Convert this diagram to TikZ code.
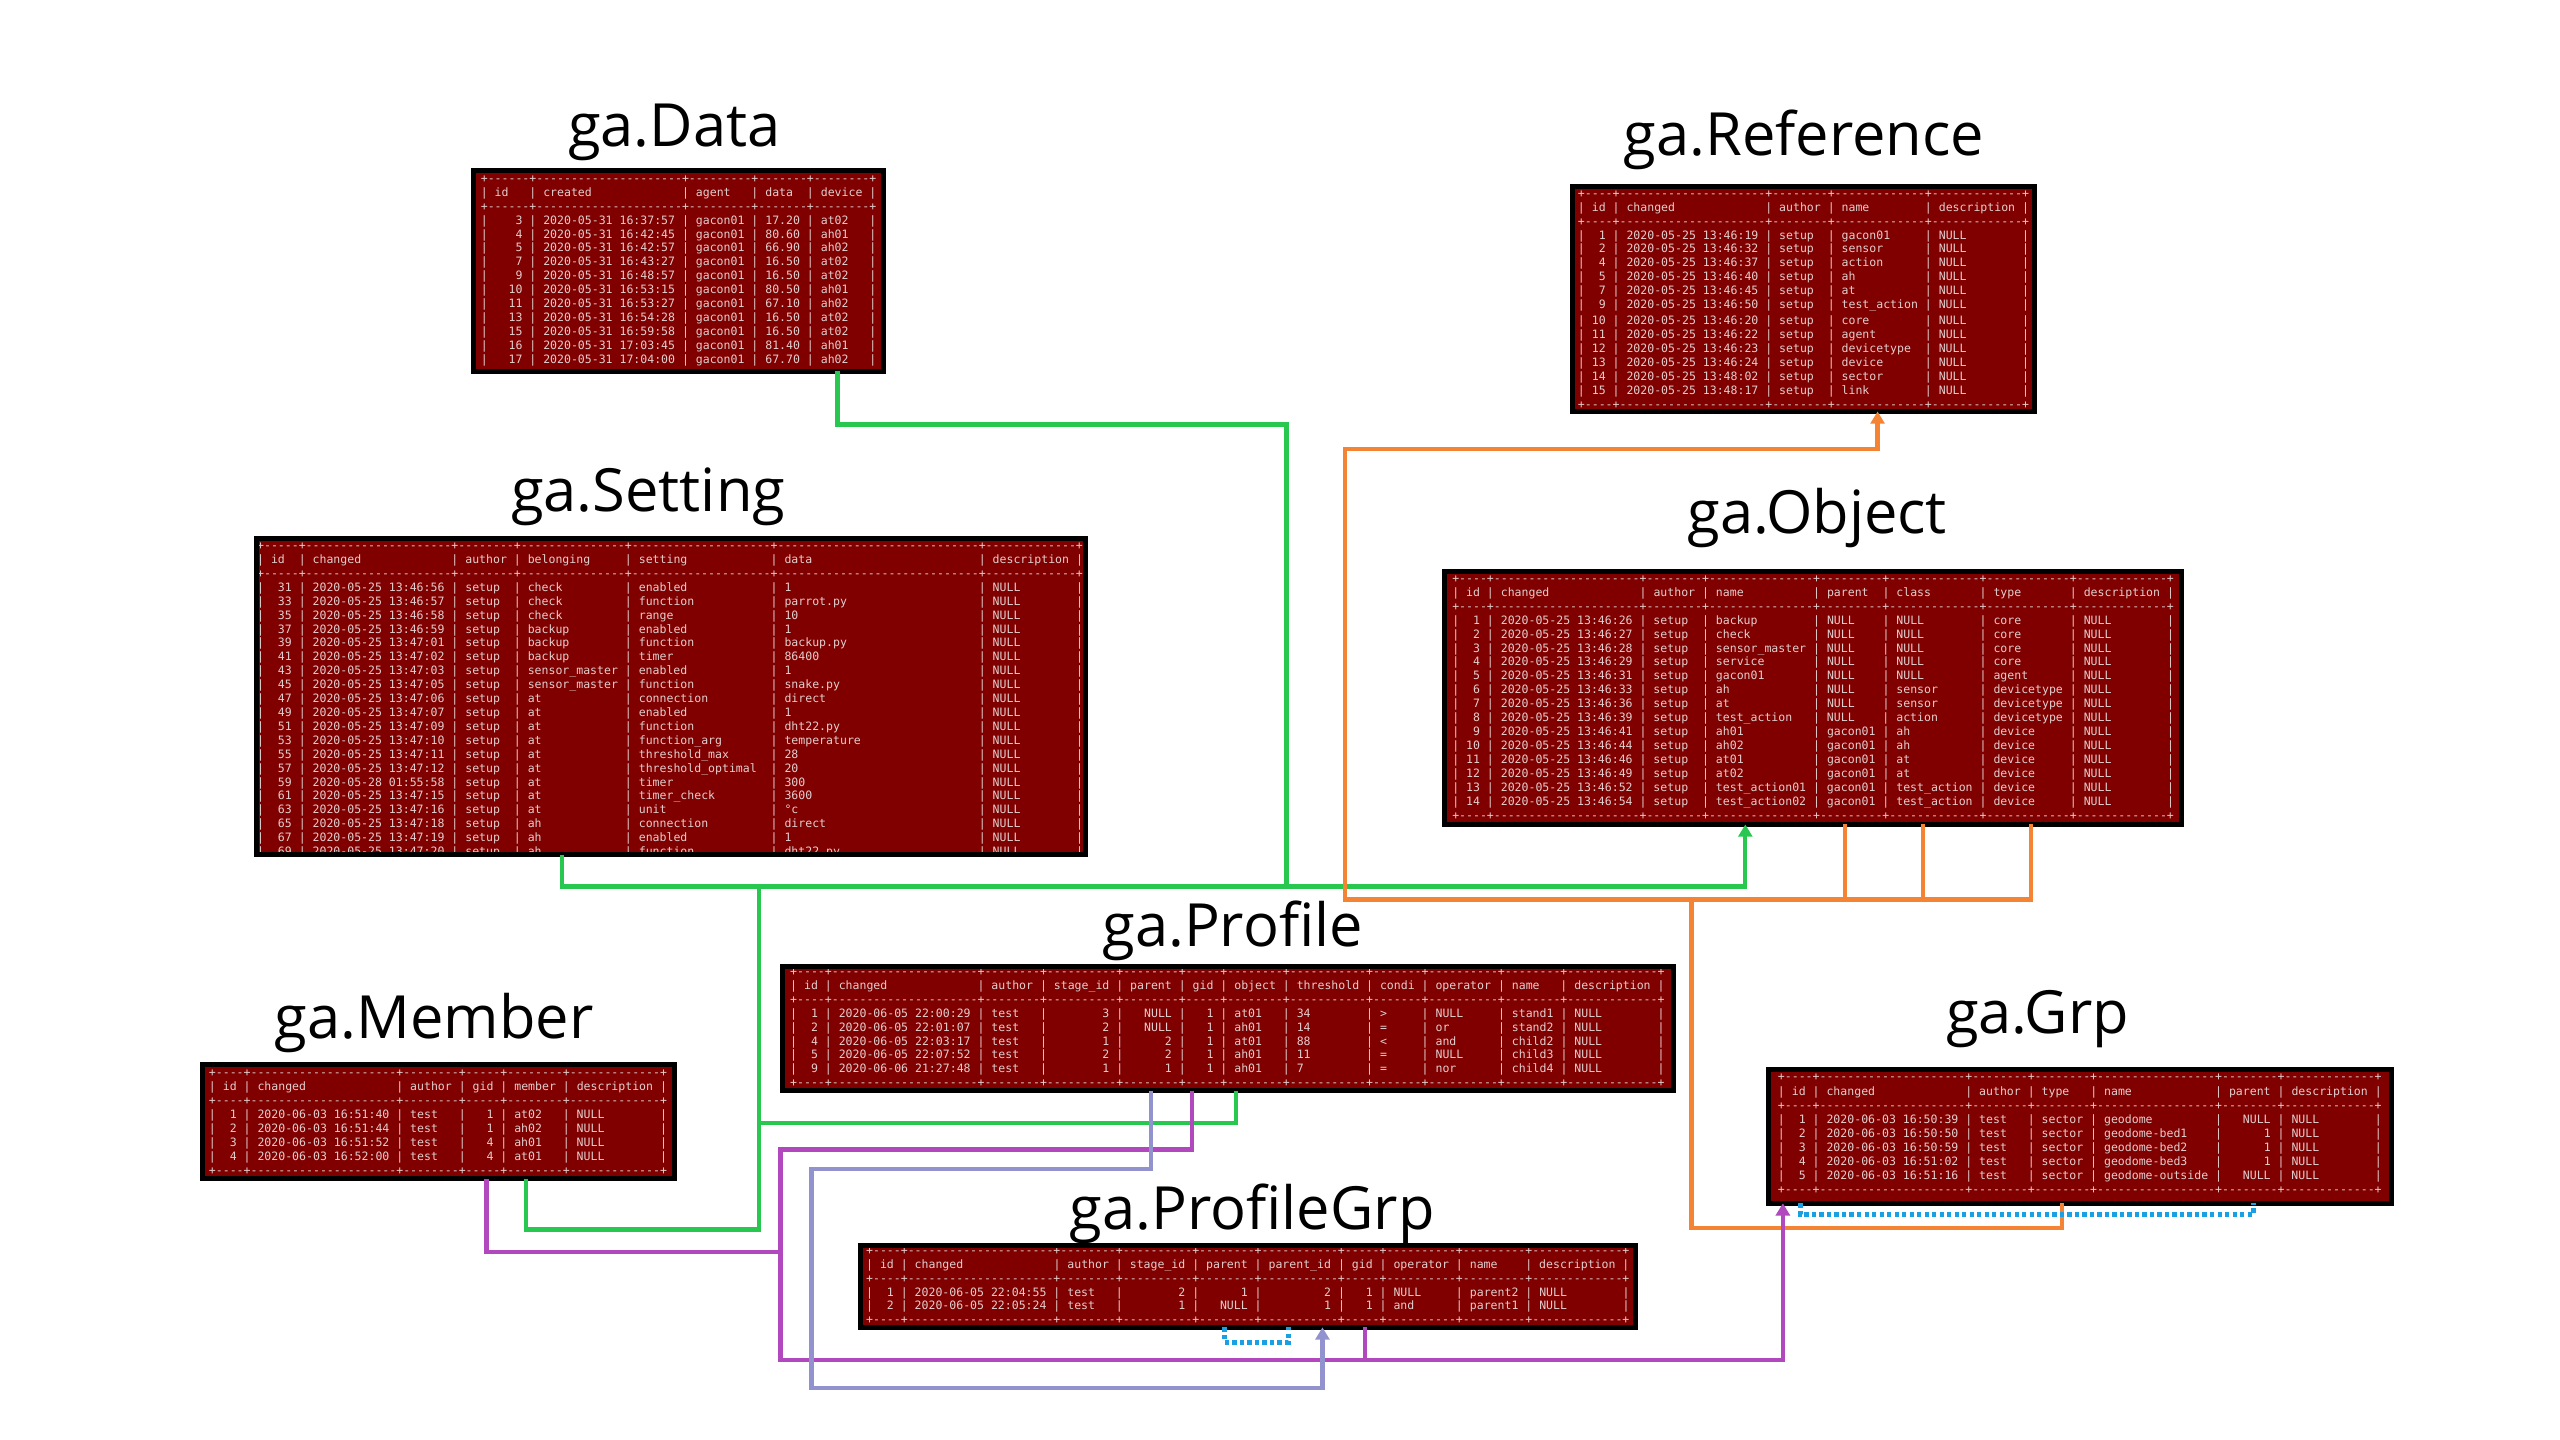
\documentclass[tikz,border=0pt]{standalone}
\usepackage{fontspec}
\setmainfont{Open Sans}
\setmonofont{DejaVu Sans Mono}
\usetikzlibrary{calc,arrows.meta}
\definecolor{tbred}{RGB}{128,0,0}
\definecolor{tbtxt}{RGB}{226,206,206}
\definecolor{cgreen}{RGB}{40,200,80}
\definecolor{corange}{RGB}{244,132,52}
\definecolor{cpurple}{RGB}{178,72,190}
\definecolor{clav}{RGB}{146,146,206}
\definecolor{cblue}{RGB}{24,160,226}

\ExplSyntaxOn
\seq_new:N \l_tb_spec_seq
\seq_new:N \l_tb_cell_seq
\dim_new:N \l_tb_cw_dim
\int_new:N \l_tb_w_int
\bool_new:N \l_tb_head_bool
\bool_new:N \l_tb_right_bool
\cs_new_protected:Npn \tb_cell:nn #1#2
 {
  \int_set:Nn \l_tb_w_int { \tl_tail:n {#1} + 2 }
  \bool_set_false:N \l_tb_right_bool
  \tl_if_head_eq_charcode:nNT {#1} r { \bool_set_true:N \l_tb_right_bool }
  \bool_if:NT \l_tb_head_bool { \bool_set_false:N \l_tb_right_bool }
  \bool_if:NTF \l_tb_right_bool
   { \hbox_to_wd:nn { \l_tb_cw_dim * \l_tb_w_int } { \hss #2 \skip_horizontal:N \l_tb_cw_dim } }
   { \hbox_to_wd:nn { \l_tb_cw_dim * \l_tb_w_int } { \skip_horizontal:N \l_tb_cw_dim #2 \hss } }
  |
 }
\cs_generate_variant:Nn \tb_cell:nn { ee }
\cs_new_protected:Npn \tb_row:nnn #1#2#3
 {
  \dim_set:Nn \l_tb_cw_dim { \fontcharwd \font `0 }
  \int_compare:nNnTF {#3} = {1}
   { \bool_set_true:N \l_tb_head_bool }
   { \bool_set_false:N \l_tb_head_bool }
  \seq_set_from_clist:Nn \l_tb_spec_seq {#1}
  \seq_set_split:Nnn \l_tb_cell_seq { ! } {#2}
  |
  \int_step_inline:nn { \seq_count:N \l_tb_spec_seq }
   {
    \tb_cell:ee { \seq_item:Nn \l_tb_spec_seq {##1} } { \seq_item:Nn \l_tb_cell_seq {##1} }
   }
 }
\cs_new_protected:Npn \tb_sep:n #1
 {
  \seq_set_from_clist:Nn \l_tb_spec_seq {#1}
  +
  \seq_map_inline:Nn \l_tb_spec_seq
   { \prg_replicate:nn { \tl_tail:n {##1} + 2 } { - } + }
 }
\NewDocumentCommand \tbRowText { m m m } { \exp_args:Ne \tb_row:nnn {#1} {#2} {#3} }
\NewDocumentCommand \tbSepText { m } { \exp_args:Ne \tb_sep:n {#1} }
\ExplSyntaxOff

\newcounter{tbl}
\newcommand\tbfont{\ttfamily\fontsize{7.06}{8}\selectfont}
\newcommand\tbBegin[5]{\def\tbN{#1}\def\tbX{#2}\def\tbY{#3}\def\tbS{#4}\def\tbspec{#5}\def\tbG{0}\setcounter{tbl}{0}}
\newcommand\tbLine[1]{\edef\tbK{\the\value{tbl}}\node[tline] (\tbN-\tbK) at (\tbX,{\tbY+\tbK*\tbS+\tbG+2.1}) {#1};\stepcounter{tbl}}
\newcommand\tbSep{\tbLine{\tbSepText{\tbspec}}}
\newcommand\tbHead[1]{\tbLine{\tbRowText{\tbspec}{#1}{1}}}
\newcommand\tbRow[1]{\tbLine{\tbRowText{\tbspec}{#1}{0}}}

\begin{document}
\begin{tikzpicture}[x=1pt,y=-1pt,
  tbox/.style={fill=tbred, draw=none, inner sep=0pt, outer sep=0pt, anchor=north west},
  tborder/.style={draw=black, line width=3pt},
  tline/.style={anchor=base west, inner sep=0pt, outer sep=0pt, text=tbtxt, font=\tbfont},
  title/.style={anchor=base, inner sep=0pt, font=\fontsize{36.5}{40}\selectfont},
  conn/.style={line width=2.6pt},
  gline/.style={conn, draw=cgreen},
  oline/.style={conn, draw=corange},
  pline/.style={conn, draw=cpurple},
  lline/.style={conn, draw=clav},
  dline/.style={line width=3pt, draw=cblue, dash pattern=on 2.6pt off 2pt},
  arr/.style={-{Triangle[width=8.5pt,length=7.5pt]}}]
\useasboundingbox (0,0) rectangle (1568,882);
\fill[white] (0,0) rectangle (1568,882);

% titles
\node[title] (tdata) at (413,90) {ga.Data};
\node[title] (tref) at (1105,95) {ga.Reference};
\node[title] (tset) at (397,313) {ga.Setting};
\node[title] (tobj) at (1113,327) {ga.Object};
\node[title] (tprof) at (755,580) {ga.Profile};
\node[title] (tmem) at (266,636) {ga.Member};
\node[title] (tgrp) at (1248,633) {ga.Grp};
\node[title] (tpgrp) at (767,753) {ga.ProfileGrp};

% ---------- ga.Data
\node[tbox, minimum width=251, minimum height=123] (data) at (290,104.5) {};
\begin{scope}
\clip (data.north west) rectangle (data.south east);
\tbBegin{dt}{294.5}{109.5}{8.55}{r4,l19,l7,l5,l6}
\tbSep
\tbHead{id!created!agent!data!device}
\tbSep
\tbRow{3!2020-05-31 16:37:57!gacon01!17.20!at02}
\tbRow{4!2020-05-31 16:42:45!gacon01!80.60!ah01}
\tbRow{5!2020-05-31 16:42:57!gacon01!66.90!ah02}
\tbRow{7!2020-05-31 16:43:27!gacon01!16.50!at02}
\tbRow{9!2020-05-31 16:48:57!gacon01!16.50!at02}
\tbRow{10!2020-05-31 16:53:15!gacon01!80.50!ah01}
\tbRow{11!2020-05-31 16:53:27!gacon01!67.10!ah02}
\tbRow{13!2020-05-31 16:54:28!gacon01!16.50!at02}
\tbRow{15!2020-05-31 16:59:58!gacon01!16.50!at02}
\tbRow{16!2020-05-31 17:03:45!gacon01!81.40!ah01}
\tbRow{17!2020-05-31 17:04:00!gacon01!67.70!ah02}
\tbSep
\end{scope}
\draw[tborder] (data.north west) rectangle (data.south east);

% ---------- ga.Reference
\node[tbox, minimum width=283, minimum height=138] (ref) at (963,114) {};
\begin{scope}
\clip (ref.north west) rectangle (ref.south east);
\tbBegin{rf}{966.5}{118.8}{8.5}{r2,l19,l6,l11,l11}
\tbSep
\tbHead{id!changed!author!name!description}
\tbSep
\tbRow{1!2020-05-25 13:46:19!setup!gacon01!NULL}
\tbRow{2!2020-05-25 13:46:32!setup!sensor!NULL}
\tbRow{4!2020-05-25 13:46:37!setup!action!NULL}
\tbRow{5!2020-05-25 13:46:40!setup!ah!NULL}
\tbRow{7!2020-05-25 13:46:45!setup!at!NULL}
\tbRow{9!2020-05-25 13:46:50!setup!test\_action!NULL}
\def\tbG{1.6}
\tbRow{10!2020-05-25 13:46:20!setup!core!NULL}
\tbRow{11!2020-05-25 13:46:22!setup!agent!NULL}
\tbRow{12!2020-05-25 13:46:23!setup!devicetype!NULL}
\tbRow{13!2020-05-25 13:46:24!setup!device!NULL}
\tbRow{14!2020-05-25 13:48:02!setup!sector!NULL}
\tbRow{15!2020-05-25 13:48:17!setup!link!NULL}
\tbSep
\end{scope}
\draw[tborder] (ref.north west) rectangle (ref.south east);

% ---------- ga.Setting
\node[tbox, minimum width=508, minimum height=193.5] (setting) at (157,330) {};
\begin{scope}
\clip (setting.north west) rectangle (setting.south east);
\tbBegin{st}{157.5}{334.5}{8.52}{r3,l19,l6,l13,l18,l27,l11}
\tbSep
\tbHead{id!changed!author!belonging!setting!data!description}
\tbSep
\tbRow{31!2020-05-25 13:46:56!setup!check!enabled!1!NULL}
\tbRow{33!2020-05-25 13:46:57!setup!check!function!parrot.py!NULL}
\tbRow{35!2020-05-25 13:46:58!setup!check!range!10!NULL}
\tbRow{37!2020-05-25 13:46:59!setup!backup!enabled!1!NULL}
\tbRow{39!2020-05-25 13:47:01!setup!backup!function!backup.py!NULL}
\tbRow{41!2020-05-25 13:47:02!setup!backup!timer!86400!NULL}
\tbRow{43!2020-05-25 13:47:03!setup!sensor\_master!enabled!1!NULL}
\tbRow{45!2020-05-25 13:47:05!setup!sensor\_master!function!snake.py!NULL}
\tbRow{47!2020-05-25 13:47:06!setup!at!connection!direct!NULL}
\tbRow{49!2020-05-25 13:47:07!setup!at!enabled!1!NULL}
\tbRow{51!2020-05-25 13:47:09!setup!at!function!dht22.py!NULL}
\tbRow{53!2020-05-25 13:47:10!setup!at!function\_arg!temperature!NULL}
\tbRow{55!2020-05-25 13:47:11!setup!at!threshold\_max!28!NULL}
\tbRow{57!2020-05-25 13:47:12!setup!at!threshold\_optimal!20!NULL}
\tbRow{59!2020-05-28 01:55:58!setup!at!timer!300!NULL}
\tbRow{61!2020-05-25 13:47:15!setup!at!timer\_check!3600!NULL}
\tbRow{63!2020-05-25 13:47:16!setup!at!unit!°c!NULL}
\tbRow{65!2020-05-25 13:47:18!setup!ah!connection!direct!NULL}
\tbRow{67!2020-05-25 13:47:19!setup!ah!enabled!1!NULL}
\tbRow{69!2020-05-25 13:47:20!setup!ah!function!dht22.py!NULL}
\end{scope}
\draw[tborder] (setting.north west) rectangle (setting.south east);

% ---------- ga.Object
\node[tbox, minimum width=451, minimum height=155] (object) at (885,350) {};
\begin{scope}
\clip (object.north west) rectangle (object.south east);
\tbBegin{ob}{889.5}{354.5}{8.55}{r2,l19,l6,l13,l7,l11,l10,l11}
\tbSep
\tbHead{id!changed!author!name!parent!class!type!description}
\tbSep
\tbRow{1!2020-05-25 13:46:26!setup!backup!NULL!NULL!core!NULL}
\tbRow{2!2020-05-25 13:46:27!setup!check!NULL!NULL!core!NULL}
\tbRow{3!2020-05-25 13:46:28!setup!sensor\_master!NULL!NULL!core!NULL}
\tbRow{4!2020-05-25 13:46:29!setup!service!NULL!NULL!core!NULL}
\tbRow{5!2020-05-25 13:46:31!setup!gacon01!NULL!NULL!agent!NULL}
\tbRow{6!2020-05-25 13:46:33!setup!ah!NULL!sensor!devicetype!NULL}
\tbRow{7!2020-05-25 13:46:36!setup!at!NULL!sensor!devicetype!NULL}
\tbRow{8!2020-05-25 13:46:39!setup!test\_action!NULL!action!devicetype!NULL}
\tbRow{9!2020-05-25 13:46:41!setup!ah01!gacon01!ah!device!NULL}
\tbRow{10!2020-05-25 13:46:44!setup!ah02!gacon01!ah!device!NULL}
\tbRow{11!2020-05-25 13:46:46!setup!at01!gacon01!at!device!NULL}
\tbRow{12!2020-05-25 13:46:49!setup!at02!gacon01!at!device!NULL}
\tbRow{13!2020-05-25 13:46:52!setup!test\_action01!gacon01!test\_action!device!NULL}
\tbRow{14!2020-05-25 13:46:54!setup!test\_action02!gacon01!test\_action!device!NULL}
\tbSep
\end{scope}
\draw[tborder] (object.north west) rectangle (object.south east);

% ---------- ga.Profile
\node[tbox, minimum width=546, minimum height=76] (profile) at (479,592) {};
\begin{scope}
\clip (profile.north west) rectangle (profile.south east);
\tbBegin{pf}{484}{595.5}{8.5}{r2,l19,l6,r8,r6,r3,l6,l9,l5,l8,l6,l11}
\tbSep
\tbHead{id!changed!author!stage\_id!parent!gid!object!threshold!condi!operator!name!description}
\tbSep
\tbRow{1!2020-06-05 22:00:29!test!3!NULL!1!at01!34!>!NULL!stand1!NULL}
\tbRow{2!2020-06-05 22:01:07!test!2!NULL!1!ah01!14!=!or!stand2!NULL}
\tbRow{4!2020-06-05 22:03:17!test!1!2!1!at01!88!<!and!child2!NULL}
\tbRow{5!2020-06-05 22:07:52!test!2!2!1!ah01!11!=!NULL!child3!NULL}
\tbRow{9!2020-06-06 21:27:48!test!1!1!1!ah01!7!=!nor!child4!NULL}
\tbSep
\end{scope}
\draw[tborder] (profile.north west) rectangle (profile.south east);

% ---------- ga.Member
\node[tbox, minimum width=289, minimum height=70] (member) at (124,652) {};
\begin{scope}
\clip (member.north west) rectangle (member.south east);
\tbBegin{mb}{128}{657.5}{8.5}{r2,l19,l6,r3,l6,l11}
\tbSep
\tbHead{id!changed!author!gid!member!description}
\tbSep
\tbRow{1!2020-06-03 16:51:40!test!1!at02!NULL}
\tbRow{2!2020-06-03 16:51:44!test!1!ah02!NULL}
\tbRow{3!2020-06-03 16:51:52!test!4!ah01!NULL}
\tbRow{4!2020-06-03 16:52:00!test!4!at01!NULL}
\tbSep
\end{scope}
\draw[tborder] (member.north west) rectangle (member.south east);

% ---------- ga.Grp
\node[tbox, minimum width=382, minimum height=82] (grp) at (1083,655) {};
\begin{scope}
\clip (grp.north west) rectangle (grp.south east);
\tbBegin{gp}{1089}{660}{8.6}{r2,l19,l6,l6,l15,r6,l11}
\tbSep
\tbHead{id!changed!author!type!name!parent!description}
\tbSep
\tbRow{1!2020-06-03 16:50:39!test!sector!geodome!NULL!NULL}
\tbRow{2!2020-06-03 16:50:50!test!sector!geodome-bed1!1!NULL}
\tbRow{3!2020-06-03 16:50:59!test!sector!geodome-bed2!1!NULL}
\tbRow{4!2020-06-03 16:51:02!test!sector!geodome-bed3!1!NULL}
\tbRow{5!2020-06-03 16:51:16!test!sector!geodome-outside!NULL!NULL}
\tbSep
\end{scope}
\draw[tborder] (grp.north west) rectangle (grp.south east);

% ---------- ga.ProfileGrp
\node[tbox, minimum width=475, minimum height=50] (pgrp) at (527,763) {};
\begin{scope}
\clip (pgrp.north west) rectangle (pgrp.south east);
\tbBegin{pg}{530.5}{766.5}{8.4}{r2,l19,l6,r8,r6,r9,r3,l8,l7,l11}
\tbSep
\tbHead{id!changed!author!stage\_id!parent!parent\_id!gid!operator!name!description}
\tbSep
\tbRow{1!2020-06-05 22:04:55!test!2!1!2!1!NULL!parent2!NULL}
\tbRow{2!2020-06-05 22:05:24!test!1!NULL!1!1!and!parent1!NULL}
\tbSep
\end{scope}
\draw[tborder] (pgrp.north west) rectangle (pgrp.south east);

% ---------- attachment points
\coordinate (dA) at ($(data.south west)+(223,0)$);
\coordinate (sA) at ($(setting.south west)+(187,0)$);
\coordinate (oG) at ($(object.south west)+(184,0)$);
\coordinate (mG) at ($(member.south west)+(198,0)$);
\coordinate (pG) at ($(profile.south west)+(278,0)$);
\coordinate (rO) at ($(ref.south west)+(187,0)$);
\coordinate (oP) at ($(object.south west)+(245,0)$);
\coordinate (oC) at ($(object.south west)+(293,0)$);
\coordinate (oT) at ($(object.south west)+(359,0)$);
\coordinate (gT) at ($(grp.south west)+(180,0)$);
\coordinate (mP) at ($(member.south west)+(174,0)$);
\coordinate (pP) at ($(profile.south west)+(251,0)$);
\coordinate (qP) at ($(pgrp.south west)+(309,0)$);
\coordinate (gI) at ($(grp.south west)+(9,0)$);
\coordinate (pL) at ($(profile.south west)+(226,0)$);
\coordinate (qL) at ($(pgrp.south west)+(283,0)$);
\coordinate (qD1) at ($(pgrp.south west)+(223,0)$);
\coordinate (qD2) at ($(pgrp.south west)+(262,0)$);
\coordinate (gD1) at ($(grp.south west)+(20,0)$);
\coordinate (gD2) at ($(grp.south west)+(297,0)$);

% ---------- green
\draw[gline] (dA) |- (788,260) -- (788,543);
\draw[gline,arr] (sA) -- ++(0,19.5) -| (oG);
\draw[gline] (mG) -- ++(0,31) -| (465,543);
\draw[gline] (pG) |- (465,688);

% ---------- orange
\draw[oline,arr] (oT) -- ++(0,46) -| (824,275) -| (rO);
\draw[oline] (oP) -- ++(0,46);
\draw[oline] (oC) -- ++(0,46);
\draw[oline] (gT) |- (1036,752) -- (1036,551);

% ---------- purple
\draw[pline] (mP) |- (478,767);
\draw[pline,arr] (pP) |- (478,704) -- (478,833) -| (gI);
\draw[pline] (qP) -- ++(0,20);

% ---------- lavender
\draw[lline,arr] (pL) |- (497,716) -- (497,850) -| (qL);

% ---------- dotted
\draw[dline] (qD1) -- ++(0,9) -| (qD2);
\draw[dline] (gD1) -- ++(0,7) -| (gD2);
\end{tikzpicture}
\end{document}
